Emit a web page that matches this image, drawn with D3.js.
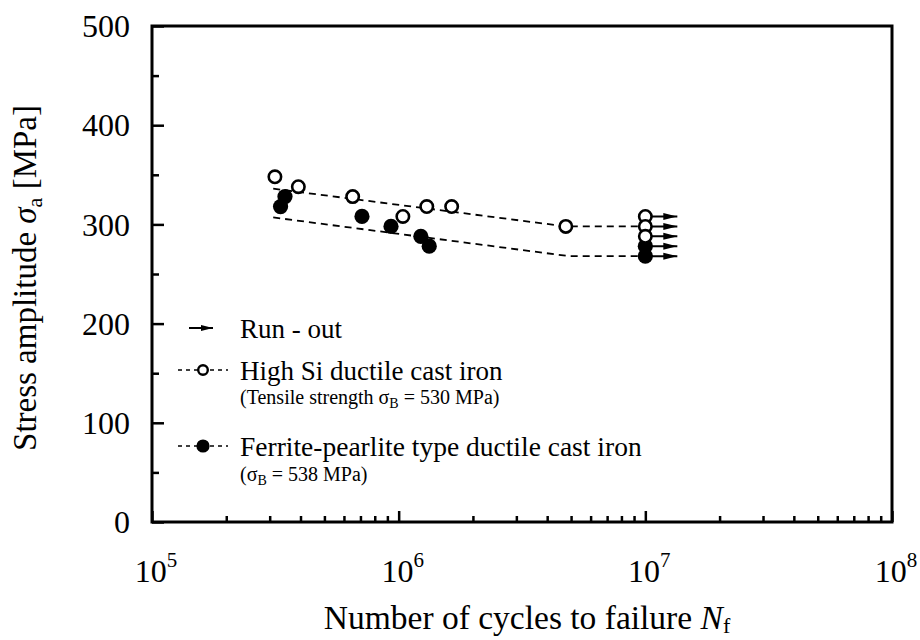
<!DOCTYPE html>
<html>
<head>
<meta charset="utf-8">
<script src="https://cdn.jsdelivr.net/npm/d3@7"></script>
<style>
    body { margin: 0; background: #fff; }
    svg text { font-family: "Liberation Serif", "Times New Roman", Times, "Nimbus Roman", "DejaVu Serif", serif; fill: #000; }
</style>
</head>
<body>
<svg id="chart"></svg>
<script>
// ---- data ----
var highSiCycles = [3.15e5, 3.92e5, 6.51e5, 1.04e6, 1.30e6, 1.64e6, 4.76e6];
var highSiStress = [348, 338, 328, 308, 318, 318, 298];
var highSiRunoutCycles = [1e7, 1e7, 1e7];
var highSiRunoutStress = [308, 298, 288];

var ferriteCycles = [3.46e5, 3.32e5, 7.10e5, 9.31e5, 1.23e6, 1.33e6];
var ferriteStress = [328, 318, 308, 298, 288, 278];
var ferriteRunoutCycles = [1e7, 1e7];
var ferriteRunoutStress = [278, 268];

var highSiLineCycles = [3.1e5, 4.76e6, 1e7];
var highSiLineStress = [336, 298, 298];
var ferriteLineCycles = [3.1e5, 4.9e6, 1e7];
var ferriteLineStress = [307, 268, 268];

var xDecades = [5, 6, 7, 8];
var yTicks = [0, 100, 200, 300, 400, 500];
var yMinorTicks = [50, 150, 250, 350, 450];

var serif = '"Liberation Serif", "Times New Roman", Times, "Nimbus Roman", "DejaVu Serif", serif';

function zip(xs, ys) {
    return xs.map(function (x, i) { return { n: x, s: ys[i] }; });
}

var width = 920, height = 640;
var margin = { top: 26, right: 28, bottom: 118, left: 152 };
var plotW = width - margin.left - margin.right;
var plotH = height - margin.top - margin.bottom;

var svg = d3.select("#chart").attr("width", width).attr("height", height)
    .attr("font-family", serif);

var defs = svg.append("defs");
defs.append("marker")
    .attr("id", "arrowHead")
    .attr("markerUnits", "userSpaceOnUse")
    .attr("markerWidth", 14).attr("markerHeight", 8)
    .attr("refX", 14).attr("refY", 4)
    .attr("orient", "auto")
    .append("path").attr("d", "M0,0.5 L14,4 L0,7.5 Z").attr("fill", "#000");
defs.append("marker")
    .attr("id", "arrowHeadSmall")
    .attr("markerUnits", "userSpaceOnUse")
    .attr("markerWidth", 12).attr("markerHeight", 8)
    .attr("refX", 12).attr("refY", 4)
    .attr("orient", "auto")
    .append("path").attr("d", "M0,1 L12,4 L0,7 Z").attr("fill", "#000");

var g = svg.append("g").attr("transform", "translate(" + margin.left + "," + margin.top + ")");

var x = d3.scaleLog().domain([1e5, 1e8]).range([0, plotW]);
var y = d3.scaleLinear().domain([0, 500]).range([plotH, 0]);

// ---- axes (ticks point inward) ----
var xMajor = xDecades.map(function (d) { return Math.pow(10, d); });
var xMinor = [];
xDecades.slice(0, -1).forEach(function (d) {
    for (var k = 2; k <= 9; k++) xMinor.push(k * Math.pow(10, d));
});

g.append("g").attr("class", "x minor").attr("transform", "translate(0," + plotH + ")")
    .call(d3.axisBottom(x).tickValues(xMinor).tickSize(-6).tickFormat(""));
g.append("g").attr("class", "x major").attr("transform", "translate(0," + plotH + ")")
    .call(d3.axisBottom(x).tickValues(xMajor).tickSize(-11).tickFormat(""));
g.append("g").attr("class", "y minor")
    .call(d3.axisLeft(y).tickValues(yMinorTicks).tickSize(-7).tickFormat(""));
g.append("g").attr("class", "y major")
    .call(d3.axisLeft(y).tickValues(yTicks).tickSize(-12).tickFormat(""));

g.selectAll(".tick line").attr("stroke", "#000").attr("stroke-width", 2.5);
g.selectAll(".domain").remove();

g.append("rect")
    .attr("width", plotW).attr("height", plotH)
    .attr("fill", "none").attr("stroke", "#000").attr("stroke-width", 3);

// tick labels
g.selectAll(".ylab").data(yTicks).enter().append("text")
    .attr("class", "ylab")
    .attr("x", -22).attr("y", function (d) { return y(d); })
    .attr("dy", "0.35em")
    .attr("text-anchor", "end")
    .style("font-size", "32px")
    .text(function (d) { return d; });

var xl = g.selectAll(".xlab").data(xDecades).enter().append("text")
    .attr("class", "xlab")
    .attr("x", function (d) { return x(Math.pow(10, d)) + 4; })
    .attr("y", plotH + 60)
    .attr("text-anchor", "middle")
    .style("font-size", "32px");
xl.append("tspan").text("10");
xl.append("tspan").attr("dy", -15).style("font-size", "21px").text(function (d) { return d; });

// axis titles
var xt = svg.append("text")
    .attr("x", margin.left + plotW / 2 + 5)
    .attr("y", 629)
    .attr("text-anchor", "middle")
    .style("font-size", "33.5px");
xt.append("tspan").text("Number of cycles to failure ");
xt.append("tspan").style("font-style", "italic").text("N");
xt.append("tspan").attr("dy", 4).style("font-size", "22px").text("f");

var yt = svg.append("text")
    .attr("transform", "translate(36," + (margin.top + plotH / 2 + 4) + ") rotate(-90)")
    .attr("text-anchor", "middle")
    .style("font-size", "33px");
yt.append("tspan").text("Stress amplitude ");
yt.append("tspan").style("font-style", "italic").text("σ");
yt.append("tspan").attr("dy", 6).style("font-size", "22px").text("a");
yt.append("tspan").attr("dy", -6).text(" [MPa]");

// ---- fitted dashed lines ----
var line = d3.line()
    .x(function (d) { return x(d.n); })
    .y(function (d) { return y(d.s); });

[zip(highSiLineCycles, highSiLineStress), zip(ferriteLineCycles, ferriteLineStress)].forEach(function (pts) {
    g.append("path")
        .attr("d", line(pts))
        .attr("fill", "none")
        .attr("stroke", "#000")
        .attr("stroke-width", 1.8)
        .attr("stroke-dasharray", "7,5");
});

// ---- run-out arrows ----
var runouts = zip(ferriteRunoutCycles, ferriteRunoutStress).concat(zip(highSiRunoutCycles, highSiRunoutStress));
g.selectAll(".runout").data(runouts).enter().append("line")
    .attr("class", "runout")
    .attr("x1", function (d) { return x(d.n); })
    .attr("x2", function (d) { return x(d.n) + 32; })
    .attr("y1", function (d) { return y(d.s); })
    .attr("y2", function (d) { return y(d.s); })
    .attr("stroke", "#000").attr("stroke-width", 2)
    .attr("marker-end", "url(#arrowHead)");

// ---- points: filled first, open on top ----
g.selectAll(".ferrite").data(zip(ferriteCycles, ferriteStress).concat(zip(ferriteRunoutCycles, ferriteRunoutStress)))
    .enter().append("circle")
    .attr("class", "ferrite")
    .attr("cx", function (d) { return x(d.n); })
    .attr("cy", function (d) { return y(d.s); })
    .attr("r", 7.6)
    .attr("fill", "#000");

g.selectAll(".highsi").data(zip(highSiCycles, highSiStress).concat(zip(highSiRunoutCycles, highSiRunoutStress)))
    .enter().append("circle")
    .attr("class", "highsi")
    .attr("cx", function (d) { return x(d.n); })
    .attr("cy", function (d) { return y(d.s); })
    .attr("r", 6.2)
    .attr("fill", "#fff")
    .attr("stroke", "#000")
    .attr("stroke-width", 2.6);

// ---- legend ----
var leg = svg.append("g");
leg.append("line")
    .attr("x1", 189).attr("x2", 213).attr("y1", 328).attr("y2", 328)
    .attr("stroke", "#000").attr("stroke-width", 2)
    .attr("marker-end", "url(#arrowHeadSmall)");
leg.append("text").attr("x", 240).attr("y", 338).style("font-size", "27px").text("Run - out");

leg.append("line")
    .attr("x1", 178).attr("x2", 228).attr("y1", 370).attr("y2", 370)
    .attr("stroke", "#000").attr("stroke-width", 1.6).attr("stroke-dasharray", "4,4");
leg.append("circle").attr("cx", 203).attr("cy", 370).attr("r", 4.8)
    .attr("fill", "#fff").attr("stroke", "#000").attr("stroke-width", 2.4);
leg.append("text").attr("x", 240).attr("y", 380).style("font-size", "27px").text("High Si ductile cast iron");
var sub1 = leg.append("text").attr("x", 240).attr("y", 404).style("font-size", "20px");
sub1.append("tspan").text("(Tensile strength σ");
sub1.append("tspan").attr("dy", 4).style("font-size", "14px").text("B");
sub1.append("tspan").attr("dy", -4).text(" = 530 MPa)");

leg.append("line")
    .attr("x1", 178).attr("x2", 228).attr("y1", 446).attr("y2", 446)
    .attr("stroke", "#000").attr("stroke-width", 1.6).attr("stroke-dasharray", "4,4");
leg.append("circle").attr("cx", 203).attr("cy", 446).attr("r", 6.6).attr("fill", "#000");
leg.append("text").attr("x", 240).attr("y", 456).style("font-size", "27.5px").text("Ferrite-pearlite type ductile cast iron");
var sub2 = leg.append("text").attr("x", 240).attr("y", 481).style("font-size", "20px");
sub2.append("tspan").text("(σ");
sub2.append("tspan").attr("dy", 4).style("font-size", "14px").text("B");
sub2.append("tspan").attr("dy", -4).text(" = 538 MPa)");
</script>
</body>
</html>
